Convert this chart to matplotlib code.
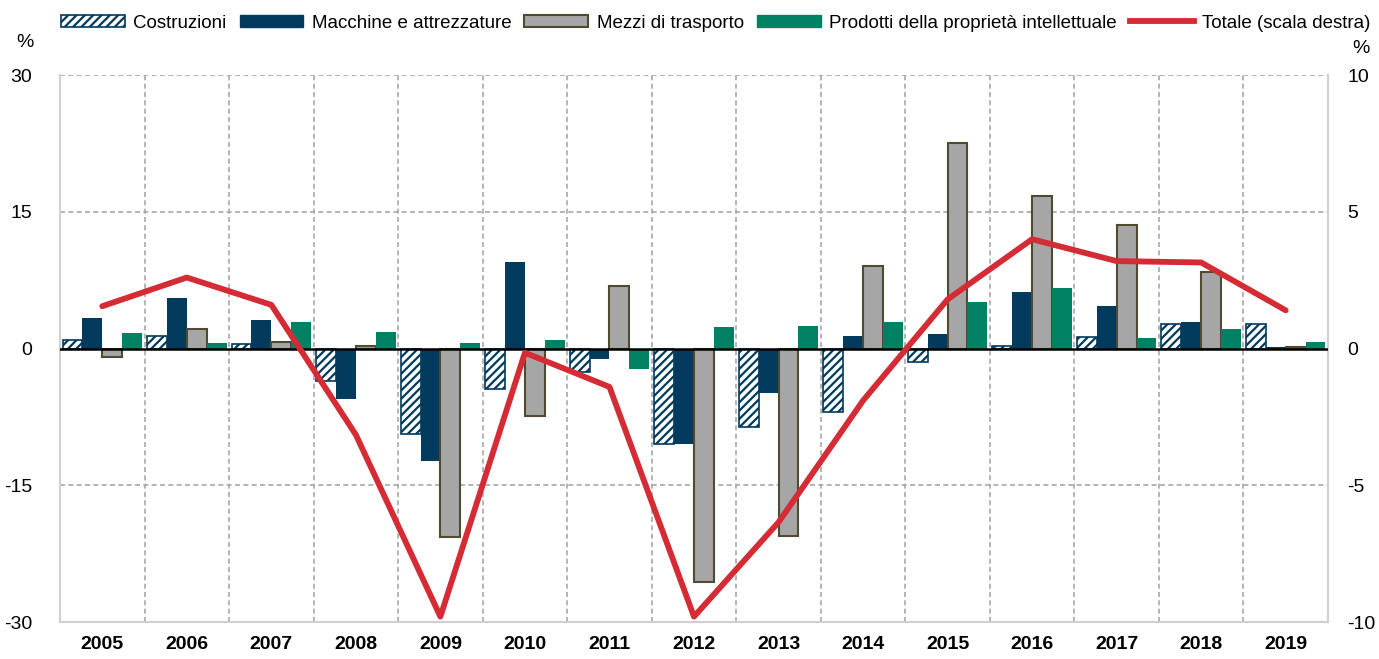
import numpy as np
import matplotlib.pyplot as plt
from matplotlib.patches import Patch
from matplotlib.lines import Line2D

plt.rcParams['font.family'] = ['Liberation Sans', 'DejaVu Sans']
plt.rcParams['hatch.linewidth'] = 1.6

years = ['2005', '2006', '2007', '2008', '2009', '2010', '2011', '2012', '2013', '2014',
         '2015', '2016', '2017', '2018', '2019']
costruzioni = [0.9, 1.4, 0.5, -3.5, -9.4, -4.4, -2.6, -10.5, -8.6, -7.0, -1.5, 0.3, 1.3, 2.65, 2.65]
macchine = [3.4, 5.6, 3.1, -5.5, -12.3, 9.5, -1.1, -10.5, -4.9, 1.4, 1.6, 6.2, 4.7, 2.9, 0.2]
mezzi = [-0.9, 2.2, 0.75, 0.3, -20.7, -7.4, 6.9, -25.6, -20.6, 9.05, 22.6, 16.7, 13.6, 8.4, 0.15]
prodotti = [1.7, 0.6, 2.9, 1.8, 0.6, 0.9, -2.25, 2.35, 2.5, 2.9, 5.1, 6.6, 1.2, 2.1, 0.75]
totale = [1.55, 2.6, 1.6, -3.15, -9.8, -0.15, -1.4, -9.8, -6.35, -1.9, 1.8, 4.0, 3.2, 3.15, 1.4]

navy = '#003A5D'
grey = '#A6A6A6'
olive = '#4F4A30'
green = '#008163'
red = '#D52B35'


def main():
    fig = plt.figure(figsize=(13.79, 6.59), dpi=100)
    ax = fig.add_axes([0.0435, 0.056, 0.9195, 0.83])
    x = np.arange(len(years))
    w = 0.235

    ax.bar(x - 1.5 * w, costruzioni, w, facecolor='white', edgecolor=navy, hatch='////', linewidth=1.2, zorder=3)
    ax.bar(x - 0.5 * w, macchine, w, color=navy, zorder=3)
    ax.bar(x + 0.5 * w, mezzi, w, facecolor=grey, edgecolor=olive, linewidth=1.5, zorder=3)
    ax.bar(x + 1.5 * w, prodotti, w, color=green, zorder=3)

    ax.set_xlim(-0.5, len(years) - 0.5)
    ax.set_ylim(-30, 30)
    ax.set_yticks([-30, -15, 0, 15, 30])
    ax.set_yticklabels(['-30', '-15', '0', '15', '30'], fontsize=14)
    ax.set_xticks(x)
    ax.set_xticklabels(years, fontsize=14, fontweight='bold')
    ax.tick_params(length=0, pad=10)
    ax.tick_params(axis='y', pad=20)

    # grid
    for b in np.arange(0.5, len(years) - 0.5):
        ax.axvline(b, color='#A8A8A8', lw=1.2, ls=(0, (3, 2)), zorder=1)
    for g in [15, -15, 30]:
        ax.axhline(g, color='#A8A8A8', lw=1.2, ls=(0, (3, 2)), zorder=1)
    ax.axhline(0, color='black', lw=1.8, zorder=4)
    for s in ax.spines.values():
        s.set_color('#D0D0D0')
        s.set_linewidth(1.5)
    ax.spines['top'].set_visible(False)

    ax2 = ax.twinx()
    ax2.plot(x, totale, color=red, lw=4.2, solid_capstyle='round', zorder=5)
    ax2.set_ylim(-10, 10)
    ax2.set_yticks([-10, -5, 0, 5, 10])
    ax2.set_yticklabels(['-10', '-5', '0', '5', '10'], fontsize=14)
    ax2.tick_params(length=0, pad=14)
    for s in ax2.spines.values():
        s.set_visible(False)

    ax.text(-0.028, 1.06, '%', transform=ax.transAxes, fontsize=14, ha='center', va='center')
    ax.text(1.026, 1.049, '%', transform=ax.transAxes, fontsize=14, ha='center', va='center')

    handles = [
        Patch(facecolor='white', edgecolor=navy, hatch='////', linewidth=1.2),
        Patch(facecolor=navy, edgecolor=navy),
        Patch(facecolor=grey, edgecolor=olive, linewidth=1.5),
        Patch(facecolor=green, edgecolor=green),
        Line2D([0], [0], color=red, lw=4.2),
    ]
    labels = ['Costruzioni', 'Macchine e attrezzature', 'Mezzi di trasporto',
              'Prodotti della proprietà intellettuale', 'Totale (scala destra)']
    fig.legend(handles, labels, loc='center', bbox_to_anchor=(0.519, 0.965), ncol=5, frameon=False,
               fontsize=13.5, handlelength=3.4, handleheight=0.6, handletextpad=0.45, columnspacing=0.7)

    fig.savefig('out.png', dpi=100)


if __name__ == '__main__':
    main()
